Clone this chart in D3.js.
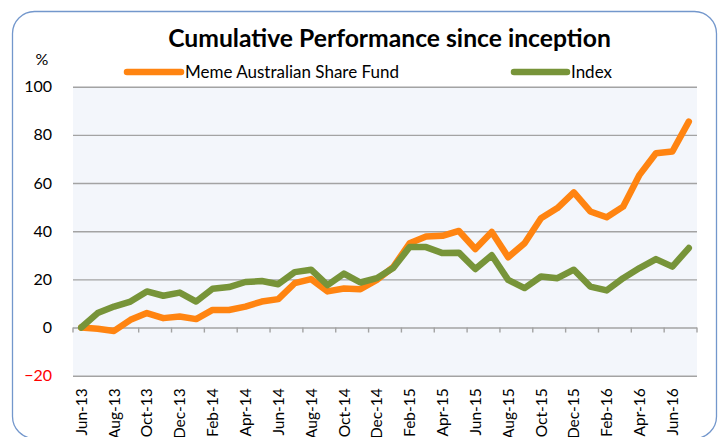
<!DOCTYPE html>
<html><head><meta charset="utf-8">
<script src="https://cdn.jsdelivr.net/npm/d3@7/dist/d3.min.js"></script>
<style>
body{margin:0;background:#fff}
svg{display:block}
text{font-family:Lato, "Open Sans", sans-serif}
</style>
</head><body>
<svg id="chart" width="723" height="437"></svg>
<script>
const months = ["Jun-13","Jul-13","Aug-13","Sep-13","Oct-13","Nov-13","Dec-13","Jan-14","Feb-14","Mar-14","Apr-14","May-14","Jun-14","Jul-14","Aug-14","Sep-14","Oct-14","Nov-14","Dec-14","Jan-15","Feb-15","Mar-15","Apr-15","May-15","Jun-15","Jul-15","Aug-15","Sep-15","Oct-15","Nov-15","Dec-15","Jan-16","Feb-16","Mar-16","Apr-16","May-16","Jun-16","Jul-16"];
const fundValues = [0,-0.5,-1.4,3.2,6.0,3.9,4.6,3.5,7.3,7.3,8.7,10.8,11.8,18.4,20.1,15.0,16.2,15.9,19.8,25.1,35.0,37.8,38.1,40.1,32.6,39.7,29.2,35.0,45.4,49.6,56.1,48.2,45.8,50.2,63.4,72.4,73.1,85.5];
const indexValues = [0,6.0,8.7,10.8,15.0,13.2,14.5,10.8,16.1,16.8,18.9,19.3,18.0,23.0,24.0,17.6,22.4,18.7,20.5,24.7,33.4,33.4,30.9,31.1,24.3,30.0,19.8,16.4,21.2,20.5,24.0,17.0,15.4,20.5,24.7,28.4,25.3,33.0];
const yTickValues = [-20,0,20,40,60,80,100];
const seriesNames = ["Meme Australian Share Fund","Index"];
const titleText = "Cumulative Performance since inception";

const svg = d3.select("#chart");
const plot = {left:73, right:697, top:86.7, bottom:375.7};
const colors = {fund:"#ff8411", index:"#779439"};

// frame
svg.append("rect").attr("x",12.5).attr("y",11.5).attr("width",704).attr("height",427)
  .attr("rx",22).attr("ry",22).attr("fill","#fff").attr("stroke","#7397cc").attr("stroke-width",1.3);

const x = d3.scaleBand().domain(months).range([plot.left, plot.right]).padding(0);
const y = d3.scaleLinear().domain([-20,100]).range([plot.bottom, plot.top]);
const cx = m => x(m) + x.bandwidth()/2;

// plot background
svg.append("rect").attr("x",plot.left).attr("y",plot.top).attr("width",plot.right-plot.left)
  .attr("height",plot.bottom-plot.top).attr("fill","#f3f6fb");

// gridlines
const grid = svg.append("g").attr("transform",`translate(${plot.left},0)`)
  .call(d3.axisLeft(y).tickValues(yTickValues).tickSize(-(plot.right-plot.left)).tickFormat(""));
grid.select(".domain").remove();
grid.selectAll("line").attr("stroke","#a3a3a3").attr("stroke-width",1.4);

// y labels
const yl = svg.append("g").attr("transform","translate(52,0)")
  .call(d3.axisLeft(y).tickValues(yTickValues).tickSize(0).tickPadding(0));
yl.select(".domain").remove();
yl.selectAll("text").attr("font-size",16).attr("font-family","Lato, sans-serif")
  .attr("fill", d => d < 0 ? "#ff0000" : "#000");

// x axis tick marks at zero line (category boundaries, every 2)
const tickPos = months.filter((m,i)=> i%2===0).map(m => x(m)).concat([plot.right]);
svg.append("g").selectAll("line").data(tickPos).join("line")
  .attr("x1",d=>d).attr("x2",d=>d).attr("y1",y(0)).attr("y2",y(0)+5)
  .attr("stroke","#a3a3a3").attr("stroke-width",1.4);

// x labels
const xl = svg.append("g").attr("transform",`translate(0,${plot.bottom})`)
  .call(d3.axisBottom(x).tickValues(months.filter((m,i)=>i%2===0)).tickSize(0));
xl.select(".domain").remove();
xl.selectAll("text").attr("font-size",15.5).attr("font-family","Lato, sans-serif").attr("fill","#000")
  .attr("text-anchor","end").attr("transform","rotate(-90)")
  .attr("x",-12.5).attr("y",0).attr("dy","0.36em");

// lines
const line = d3.line().x((d,i)=>cx(months[i])).y(d=>y(d));
svg.append("path").datum(fundValues).attr("d",line).attr("fill","none")
  .attr("stroke",colors.fund).attr("stroke-width",6.5).attr("stroke-linejoin","round").attr("stroke-linecap","round");
svg.append("path").datum(indexValues).attr("d",line).attr("fill","none")
  .attr("stroke",colors.index).attr("stroke-width",6.5).attr("stroke-linejoin","round").attr("stroke-linecap","round");

// title
svg.append("text").attr("x",389.5).attr("y",47).attr("text-anchor","middle").attr("fill","#000")
  .attr("font-size",24.7).attr("font-weight","bold").text(titleText);
// % label
svg.append("text").attr("x",42).attr("y",65).attr("text-anchor","middle").attr("fill","#000").attr("font-size",16).text("%");

// legend
const legend = [
  {name:seriesNames[0], color:colors.fund, x1:127, x2:181},
  {name:seriesNames[1], color:colors.index, x1:514, x2:567}
];
legend.forEach(l=>{
  svg.append("line").attr("x1",l.x1).attr("x2",l.x2).attr("y1",72).attr("y2",72)
    .attr("stroke",l.color).attr("stroke-width",6.5).attr("stroke-linecap","round");
  svg.append("text").attr("x",l.x2+4).attr("y",77.5).attr("fill","#000").attr("font-size",17).text(l.name);
});
</script>
</body></html>
